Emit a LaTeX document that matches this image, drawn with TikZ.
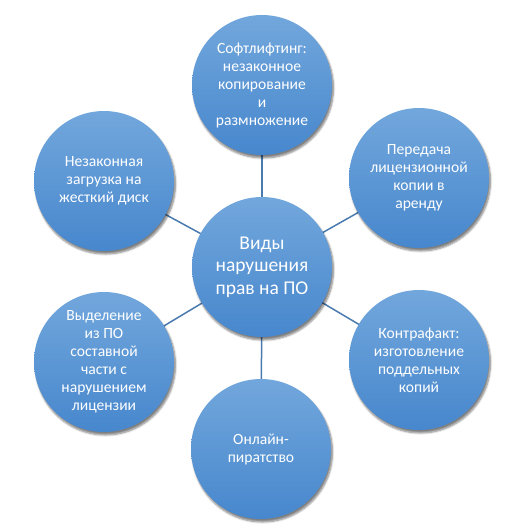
\documentclass[tikz,border=0pt]{standalone}
\usepackage{fontspec}
\setmainfont{Carlito}
\usetikzlibrary{shadows.blur,backgrounds}
\definecolor{ctop}{HTML}{72A7DC}
\definecolor{cbot}{HTML}{4787CD}
\definecolor{lineblue}{HTML}{4A7BB0}
\begin{document}
\begin{tikzpicture}[x=1pt,y=1pt,
  bub/.style={circle, minimum size=140pt, inner sep=0pt, top color=ctop, bottom color=cbot,
    draw=none, text=white, align=center, font=\fontsize{15.6}{18}\selectfont,
    blur shadow={shadow xshift=1.5pt, shadow yshift=-3pt, shadow blur steps=6, shadow opacity=50}},
  hub/.style={bub, font=\fontsize{19.5}{22.5}\selectfont},
  linkline/.style={draw=lineblue, line width=1.5pt}]
\useasboundingbox (0,0) rectangle (525,-531);
\node[hub] (c) at (262,-267) {Виды\\нарушения\\прав на ПО};
\node[bub] (t) at (262,-85) {Софтлифтинг:\\незаконное\\копирование\\и\\размножение};
\node[bub] (ur) at (419,-178) {Передача\\лицензионной\\копии в\\аренду};
\node[bub] (lr) at (419,-360) {Контрафакт:\\изготовление\\поддельных\\копий};
\node[bub] (b) at (261,-449) {Онлайн-\\пиратство};
\node[bub] (ll) at (104,-362) {Выделение\\из ПО\\составной\\части с\\нарушением\\лицензии};
\node[bub] (ul) at (104,-181) {Незаконная\\загрузка на\\жесткий диск};
\begin{scope}[on background layer]
\draw[linkline] (c.center) -- (t.center);
\draw[linkline] (c.center) -- (ur.center);
\draw[linkline] (c.center) -- (lr.center);
\draw[linkline] (c.center) -- (b.center);
\draw[linkline] (c.center) -- (ll.center);
\draw[linkline] (c.center) -- (ul.center);
\end{scope}
\end{tikzpicture}
\end{document}
